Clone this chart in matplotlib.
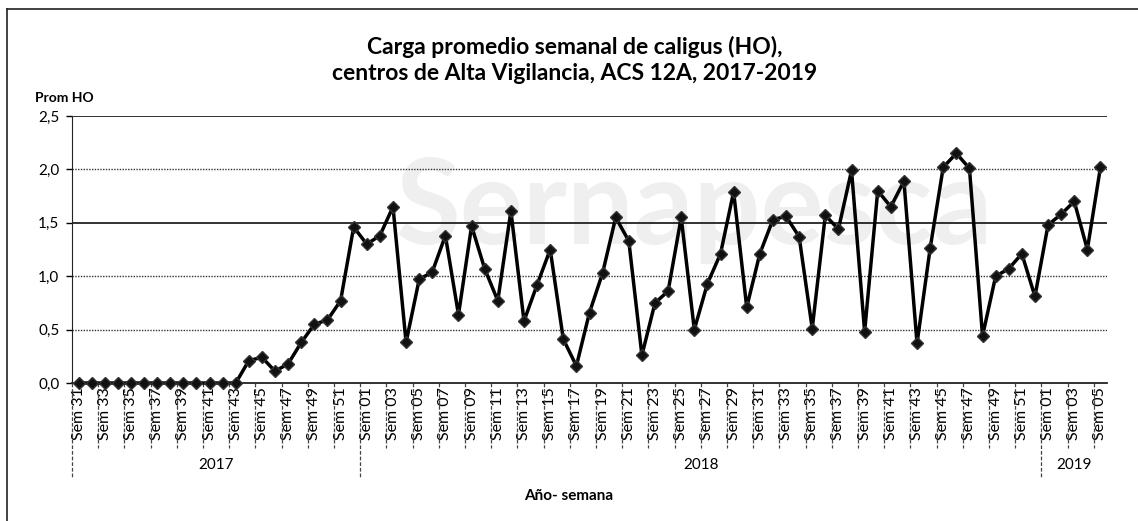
import matplotlib
matplotlib.use('Agg')
import matplotlib.pyplot as plt
import matplotlib.transforms as mtransforms
from matplotlib.lines import Line2D
import numpy as np

# Datos: carga promedio semanal (HO)
semanas_2017 = list(range(31, 53))
semanas_2018 = list(range(1, 53))
semanas_2019 = list(range(1, 6))

valores_2017 = [0, 0, 0, 0, 0, 0, 0, 0, 0, 0, 0, 0, 0,
                0.21, 0.24, 0.11, 0.18, 0.38, 0.55, 0.59, 0.77, 1.46]
valores_2018 = [1.30, 1.38, 1.65, 0.38, 0.97, 1.04, 1.38, 0.64, 1.47, 1.07,
                0.77, 1.61, 0.58, 0.92, 1.25, 0.41, 0.16, 0.66, 1.03, 1.55,
                1.33, 0.26, 0.75, 0.86, 1.55, 0.50, 0.93, 1.21, 1.79, 0.71,
                1.21, 1.53, 1.56, 1.37, 0.51, 1.57, 1.44, 1.99, 0.48, 1.80,
                1.65, 1.89, 0.37, 1.26, 2.02, 2.15, 2.01, 0.44, 1.00, 1.07,
                1.21, 0.81]
valores_2019 = [1.48, 1.58, 1.70, 1.25, 2.02]

anios = ['2017', '2018', '2019']
yticks = [0, 0.5, 1.0, 1.5, 2.0, 2.5]

semanas = semanas_2017 + semanas_2018 + semanas_2019
valores = valores_2017 + valores_2018 + valores_2019
etiquetas = [f'Sem {s:02d}' for s in semanas]
x = np.arange(len(valores))

plt.rcParams['font.family'] = ['Lato', 'DejaVu Sans']

fig = plt.figure(figsize=(11.38, 5.21), dpi=100)
ax = fig.add_axes([72 / 1138, 1 - 383 / 521, (1107 - 72) / 1138, 267 / 521])

# lineas de grilla
for yv in yticks[1:]:
    if yv in (1.5, 2.5):
        ax.axhline(yv, color='#222222', linewidth=1.3, zorder=1)
    else:
        ax.axhline(yv, color='#333333', linewidth=1.0, linestyle=(0, (1, 1)), zorder=1)

# marca de agua
ax.text(47, 1.62, 'Sernapesca', fontsize=85, color='#efefef', ha='center', va='center',
        fontweight='bold', zorder=0)

ax.plot(x, valores, color='black', linewidth=2.5, marker='D', markersize=6.5,
        markerfacecolor='#111111', markeredgecolor='#333333', zorder=3, clip_on=False)

ax.set_xlim(-0.5, len(valores) - 0.5)
ax.set_ylim(0, 2.5)
ax.set_yticks(yticks)
ax.set_yticklabels([f'{v:.1f}'.replace('.', ',') for v in yticks], fontsize=11)
ax.tick_params(axis='y', length=4, width=1, pad=5)

pos = x[::2]
ax.set_xticks(pos)
ax.set_xticklabels([etiquetas[i] for i in pos], rotation=90, fontsize=11.5)
ax.tick_params(axis='x', length=0, pad=3)

for s in ['top', 'right']:
    ax.spines[s].set_visible(False)
ax.spines['left'].set_color('#222222')
ax.spines['bottom'].set_color('#222222')
ax.spines['bottom'].set_linewidth(1.3)

trans = mtransforms.blended_transform_factory(ax.transData, ax.transAxes)

# separadores de categorias
limites_anio = [-0.5, len(semanas_2017) - 0.5,
                len(semanas_2017) + len(semanas_2018) - 0.5, len(valores) - 0.5]
for b in np.arange(-0.5, len(valores), 2):
    y_fin = -0.354 if b in limites_anio else -0.243
    ax.plot([b, b], [0, y_fin], transform=trans, color='#444444', linewidth=0.9,
            linestyle=(0, (3, 1.5)), clip_on=False)

for k, nombre in enumerate(anios):
    centro = (limites_anio[k] + limites_anio[k + 1]) / 2
    ax.text(centro, -0.306, nombre, transform=trans, ha='center', va='center', fontsize=11)

ax.text(0.48, -0.425, 'Año- semana', transform=ax.transAxes, ha='center', va='center',
        fontsize=11, fontweight='bold')

fig.text(35 / 1138, 1 - 98 / 521, 'Prom HO', ha='left', va='center', fontsize=10,
         fontweight='bold')
fig.text(575 / 1138, 1 - 60 / 521,
         'Carga promedio semanal de caligus (HO),\ncentros de Alta Vigilancia, ACS 12A, 2017-2019',
         ha='center', va='center', fontsize=16.5, fontweight='bold', linespacing=1.3)

# borde exterior
fig.add_artist(Line2D([7 / 1138, 7 / 1138], [0, 1 - 9 / 521], transform=fig.transFigure,
                      color='#222222', linewidth=1.2))
fig.add_artist(Line2D([7 / 1138, 1], [1 - 9 / 521, 1 - 9 / 521], transform=fig.transFigure,
                      color='#222222', linewidth=1.2))

fig.savefig('out.png', dpi=100)
